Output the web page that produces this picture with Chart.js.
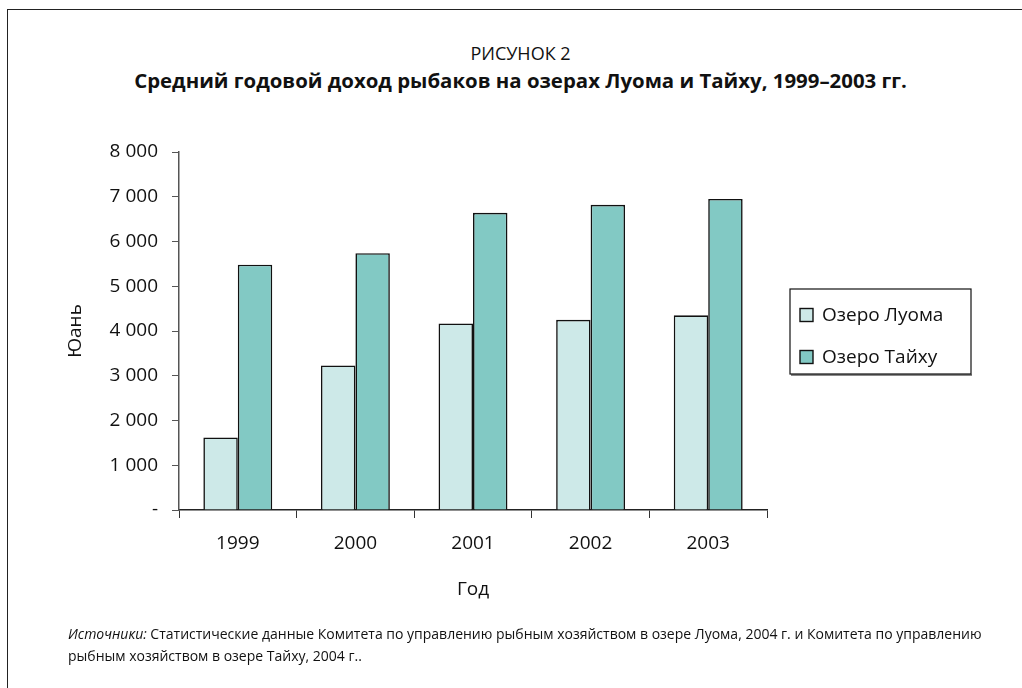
<!DOCTYPE html>
<html lang="ru">
<head>
<meta charset="utf-8">
<script src="https://cdn.jsdelivr.net/npm/chart.js@4.4.1/dist/chart.umd.min.js"></script>
<style>
  html, body { margin: 0; padding: 0; background: #fff; overflow: hidden; }
  body { width: 1022px; height: 688px; position: relative; font-family: "Open Sans", sans-serif; color: #111; }
  .frame { position: absolute; left: 7px; top: 9px; width: 1040px; height: 720px; border: 1.5px solid #222; box-sizing: border-box; }
  .chart-box { position: absolute; left: 0; top: 0; width: 1022px; height: 688px; }
  .fig-num { position: absolute; left: 0; width: 1041px; top: 41px; text-align: center; font-size: 18px; }
  .fig-title { position: absolute; left: 0; width: 1041px; top: 66px; text-align: center; font-size: 20.4px; font-weight: bold; }
  .source { position: absolute; left: 68px; top: 623px; width: 930px; font-size: 14px; line-height: 22px; }
</style>
</head>
<body>
<div class="frame"></div>
<div class="fig-num">РИСУНОК 2</div>
<div class="fig-title">Средний годовой доход рыбаков на озерах Луома и Тайху, 1999–2003 гг.</div>
<div class="chart-box"><canvas id="incomeChart"></canvas></div>
<div class="source"><i>Источники:</i> Статистические данные Комитета по управлению рыбным хозяйством в озере Луома, 2004 г. и Комитета по управлению рыбным хозяйством в озере Тайху, 2004 г..</div>

<script>
// DATA
const years = ['1999', '2000', '2001', '2002', '2003'];
const luomaIncome = [1620, 3230, 4170, 4250, 4350];
const taihuIncome = [5480, 5740, 6640, 6820, 6950];
const yTickLabels = ['-', '1 000', '2 000', '3 000', '4 000', '5 000', '6 000', '7 000', '8 000'];

// BOXED LEGEND TO THE RIGHT OF THE PLOT
const boxedLegend = {
  id: 'boxedLegend',
  afterDraw(chart) {
    const { ctx, chartArea } = chart;
    const mid = (chartArea.top + chartArea.bottom) / 2;
    const x = chartArea.right + 23;
    const y = mid - 42;
    ctx.save();
    ctx.fillStyle = '#888';
    ctx.fillRect(x + 1, y + 85, 181, 2);
    ctx.strokeStyle = '#111';
    ctx.lineWidth = 1.2;
    ctx.strokeRect(x, y, 181, 85);

    ctx.font = '19px "Open Sans"';
    ctx.textBaseline = 'middle';
    chart.data.datasets.forEach((ds, i) => {
      const cy = mid - 16 + i * 42;
      ctx.fillStyle = ds.backgroundColor;
      ctx.fillRect(x + 10, cy - 6.5, 13, 13);
      ctx.strokeStyle = '#111';
      ctx.lineWidth = 1.4;
      ctx.strokeRect(x + 10, cy - 6.5, 13, 13);
      ctx.fillStyle = '#111';
      ctx.fillText(ds.label, x + 32, cy + 1);
    });
    ctx.restore();
  }
};

const canvas = document.getElementById('incomeChart');
new Chart(canvas, {
  type: 'bar',
  data: {
    labels: years,
    datasets: [{
      label: 'Озеро Луома',
      data: luomaIncome,
      backgroundColor: '#cde9e8',
      borderColor: '#111',
      borderWidth: 1.6,
    }, {
      label: 'Озеро Тайху',
      data: taihuIncome,
      backgroundColor: '#82c9c4',
      borderColor: '#111',
      borderWidth: 1.6,
    }],
  },
  options: {
    responsive: true,
    maintainAspectRatio: false,
    animation: false,
    datasets: { bar: { categoryPercentage: 0.586, barPercentage: 1 } },
    layout: { padding: { left: 60, top: 152, right: 255, bottom: 83 } },
    scales: {
      x: {
        grid: { display: true, drawOnChartArea: false, tickLength: 8, color: '#333', offset: true },
        border: { color: '#222', width: 1.5 },
        ticks: { color: '#111', padding: 14, font: { family: 'Open Sans', size: 19 } },
        title: { display: true, text: 'Год', color: '#111', font: { family: 'Open Sans', size: 19 } },
        afterFit: (scale) => { scale.height = 95; },
      },
      y: {
        min: 0,
        max: 8000,
        grid: { display: true, drawOnChartArea: false, tickLength: 7, color: '#555' },
        border: { color: '#555', width: 1.5 },
        ticks: {
          stepSize: 1000,
          color: '#111',
          padding: 14,
          font: { family: 'Open Sans', size: 19 },
          callback: (value, index) => yTickLabels[index],
        },
        title: { display: true, text: 'Юань', color: '#111', font: { family: 'Open Sans', size: 19 } },
        afterFit: (scale) => { scale.width = 119; },
      },
    },
    plugins: {
      legend: { display: false },
      tooltip: { enabled: false },
    },
  },
  plugins: [boxedLegend],
});
</script>
</body>
</html>
